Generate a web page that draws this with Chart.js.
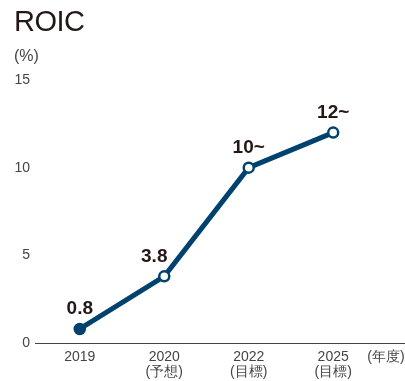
<!DOCTYPE html>
<html>
<head>
<meta charset="utf-8">
<script src="https://cdn.jsdelivr.net/npm/chart.js@4"></script>
<style>
  html, body { margin: 0; padding: 0; background: #fff; }
  #wrap { position: relative; width: 405px; height: 381px; }
  #title { position: absolute; left: 14px; top: 5px; font: 29px "Liberation Sans", Arial, sans-serif; color: #231815; letter-spacing: -0.5px; }
  #unit { position: absolute; left: 14px; top: 47px; font: 16px "Liberation Sans Narrow", "Liberation Sans", sans-serif; color: #444; }
</style>
</head>
<body>
<div id="wrap">
  <canvas id="myChart" width="405" height="381"></canvas>
  <div id="title">ROIC</div>
  <div id="unit">(%)</div>
</div>
<script>
const years = [['2019'], ['2020', '(予想)'], ['2022', '(目標)'], ['2025', '(目標)']];
const roic = [0.8, 3.8, 10, 12];
const valueLabels = ['0.8', '3.8', '10~', '12~'];
const yTicks = [0, 5, 10, 15];

const navy = '#00426e';
const narrow = '"Liberation Sans Narrow", "Liberation Sans", sans-serif';

// ラベルを点の上に描く
const valueLabelPlugin = {
    id: 'valueLabels',
    afterDatasetsDraw(chart) {
        const c = chart.ctx;
        const meta = chart.getDatasetMeta(0);
        c.save();
        c.font = 'bold 19px ' + narrow;
        c.fillStyle = '#231815';
        c.textAlign = 'center';
        c.textBaseline = 'middle';
        meta.data.forEach((pt, i) => {
            const dx = i === 1 ? -10 : 0;
            c.fillText(valueLabels[i], pt.x + dx, pt.y - 20);
        });
        // 年度 label at the end of the x axis
        const xa = chart.scales.x;
        c.font = '14px ' + narrow;
        c.fillStyle = '#444';
        c.textAlign = 'center';
        c.fillText('(年度)', 386, xa.top + 14);
        c.restore();
    }
};

const myChart = new Chart(document.getElementById('myChart').getContext('2d'), {
    type: 'line',
    data: {
        datasets: [{
            label: 'ROIC',
            data: roic.map((v, i) => ({ x: i, y: v })),
            borderColor: navy,
            borderWidth: 5,
            pointRadius: 5,
            pointBorderWidth: 2.5,
            pointBackgroundColor: roic.map((v, i) => i === 0 ? navy : '#fff'),
            pointBorderColor: navy,
            tension: 0
        }]
    },
    options: {
        responsive: false,
        animation: false,
        layout: { autoPadding: false, padding: { top: 80, right: 0, left: 0, bottom: 0 } },
        plugins: {
            legend: { display: false },
            tooltip: { enabled: false }
        },
        scales: {
            x: {
                type: 'linear',
                min: -0.53,
                max: 3.85,
                afterBuildTicks: (axis) => { axis.ticks = years.map((y, i) => ({ value: i })); },
                afterFit: (axis) => { axis.height = 38; },
                grid: { display: false, drawTicks: false },
                border: { display: true, color: '#444', width: 1 },
                ticks: {
                    autoSkip: false,
                    maxRotation: 0,
                    padding: 7,
                    color: '#444',
                    font: { family: narrow, size: 14, lineHeight: 1.05 },
                    callback: (v) => years[v]
                }
            },
            y: {
                min: 0,
                max: 15,
                afterBuildTicks: (axis) => { axis.ticks = yTicks.map(v => ({ value: v })); },
                afterFit: (axis) => { axis.width = 35; },
                grid: { display: false, drawTicks: false },
                border: { display: false },
                ticks: {
                    padding: 5,
                    color: '#444',
                    font: { family: narrow, size: 14 }
                }
            }
        }
    },
    plugins: [valueLabelPlugin]
});
</script>
</body>
</html>
